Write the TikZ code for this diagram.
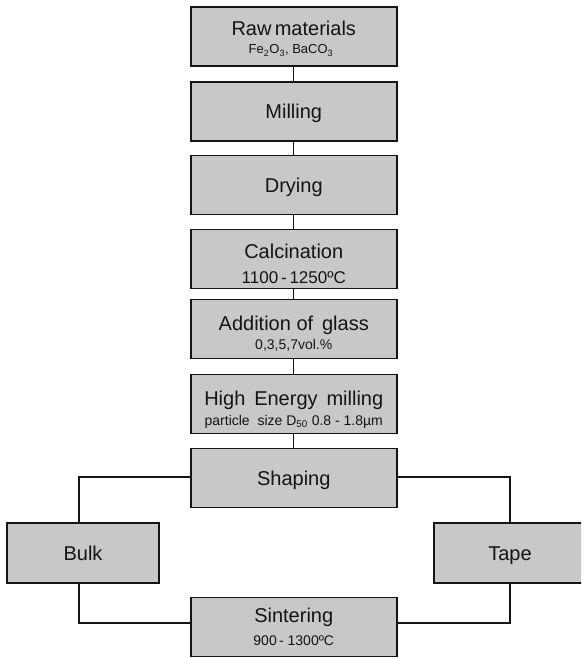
\documentclass[tikz,border=0pt]{standalone}
\usepackage{fontspec}
\setmainfont{Liberation Sans}
\definecolor{boxgray}{RGB}{200,200,200}
\definecolor{ink}{RGB}{20,20,20}
\begin{document}
\begin{tikzpicture}[x=1pt,y=-1pt,
  stepbox/.style={draw=ink,line width=1.6pt,fill=boxgray,inner sep=0pt,minimum width=206pt,minimum height=59pt},
  sidebox/.style={draw=ink,line width=1.6pt,fill=boxgray,inner sep=0pt,minimum width=152pt,minimum height=60pt},
  maintxt/.style={anchor=base,inner sep=0pt,text=ink,font=\fontsize{20}{22}\selectfont},
  subtxt/.style={anchor=base,inner sep=0pt,text=ink,font=\fontsize{14}{16}\selectfont},
  link/.style={draw=ink,line width=1.3pt}]
\clip (0,0) rectangle (581,658);
\fill[white] (0,0) rectangle (581,658);
% boxes
\node[stepbox] (raw)   at (293.75,36.5) {};
\node[stepbox] (mill)  at (293.75,111.5) {};
\node[stepbox] (dry)   at (293.75,185) {};
\node[stepbox] (calc)  at (293.75,259) {};
\node[stepbox] (glass) at (293.75,329) {};
\node[stepbox] (hem)   at (293.75,404) {};
\node[stepbox] (shape) at (293.75,478) {};
\node[sidebox] (bulk)  at (83,553) {};
\node[sidebox] (tape)  at (510,553) {};
\node[stepbox] (sint)  at (293.75,627) {};
% texts
\node[maintxt] (rawT) at (293.75,36) {Raw\,materials};
\node[subtxt,font=\fontsize{13}{15}\selectfont] (rawS) at (291,54) {Fe\textsubscript{2}O\textsubscript{3}, BaCO\textsubscript{3}};
\node[maintxt] (millT) at (293.75,119) {Milling};
\node[maintxt] (dryT) at (293.75,192.5) {Drying};
\node[maintxt] (calcT) at (293.75,258) {Calcination};
\node[subtxt,font=\fontsize{17}{19}\selectfont] (calcS) at (293.75,283.5) {1100\,-\,1250ºC};
\node[maintxt] (glassT) at (293.75,330) {Addition of\, glass};
\node[subtxt] (glassS) at (293.75,349.5) {0,3,5,7vol.\%};
\node[maintxt] (hemT) at (293.75,405) {High\, Energy\, milling};
\node[subtxt] (hemS) at (293.75,425) {particle\ \ size D\textsubscript{50} 0.8 - 1.8µm};
\node[maintxt] (shapeT) at (293.75,485) {Shaping};
\node[maintxt] (bulkT) at (83,560) {Bulk};
\node[maintxt] (tapeT) at (510,560) {Tape};
\node[maintxt] (sintT) at (293.75,622.5) {Sintering};
\node[subtxt] (sintS) at (293.75,645) {900\,- 1300ºC};
% connectors
\draw[link] (raw.south) -- (mill.north);
\draw[link] (mill.south) -- (dry.north);
\draw[link] (dry.south) -- (calc.north);
\draw[link] (calc.south) -- (glass.north);
\draw[link] (glass.south) -- (hem.north);
\draw[link] (hem.south) -- (shape.north);
\draw[link] ([yshift=1pt]shape.west) -| ([xshift=-4pt]bulk.north);
\draw[link] ([yshift=1pt]shape.east) -| (tape.north);
\draw[link] ([xshift=-4pt]bulk.south) |- ([yshift=4pt]sint.west);
\draw[link] (tape.south) |- ([yshift=4pt]sint.east);
\end{tikzpicture}
\end{document}
